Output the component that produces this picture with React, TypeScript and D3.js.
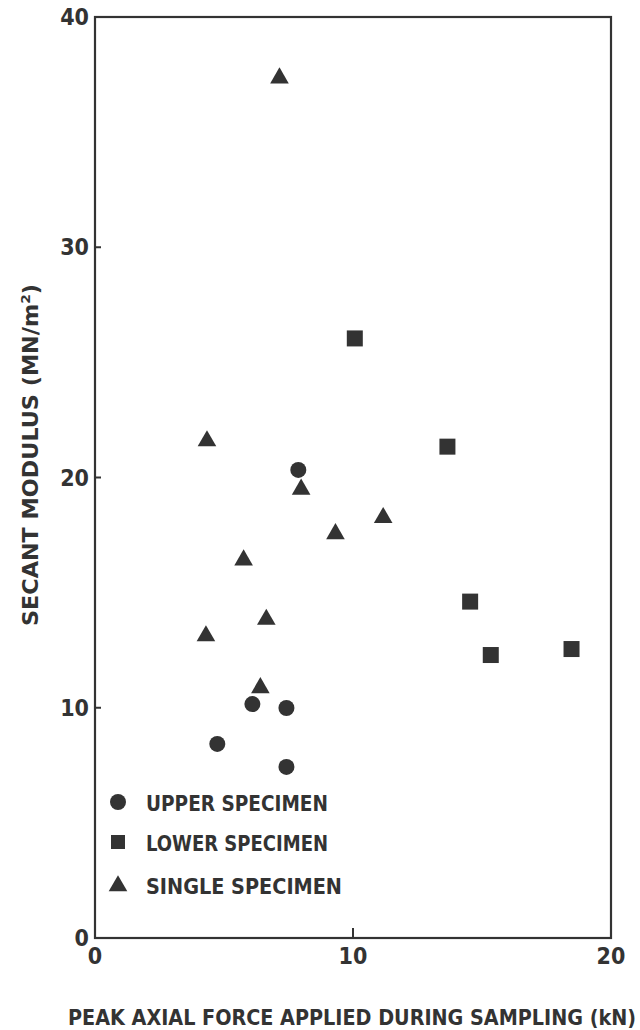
import React from "react";
import * as d3 from "d3";

const upperX = [7.88, 6.1, 7.42, 4.74, 7.42];
const upperY = [20.33, 10.16, 9.99, 8.43, 7.43];
const lowerX = [10.07, 13.66, 14.54, 15.34, 18.47];
const lowerY = [26.04, 21.34, 14.61, 12.29, 12.55];
const singleX = [7.15, 4.34, 7.99, 11.17, 9.32, 5.76, 6.64, 4.3, 6.41];
const singleY = [37.39, 21.63, 19.53, 18.3, 17.6, 16.46, 13.88, 13.16, 10.91];
const xTicks = [0, 10, 20];
const yTicks = [0, 10, 20, 30, 40];
const legendLabels = ["UPPER SPECIMEN", "LOWER SPECIMEN", "SINGLE SPECIMEN"];
const xTitle = "PEAK AXIAL FORCE APPLIED DURING SAMPLING (kN)";

const INK = "#333";
const FONT = "'DejaVu Sans Condensed', 'DejaVu Sans', sans-serif";

export default function App() {
  const W = 640, H = 1030;
  const x = d3.scaleLinear().domain([0, 20]).range([95, 611]);
  const y = d3.scaleLinear().domain([0, 40]).range([938, 17]);
  const tri = d3.symbol().type(d3.symbolTriangle).size(150)();
  const circ = (cx: number, cy: number, k: string) => (
    <circle key={k} cx={cx} cy={cy} r={8} fill={INK} />
  );
  const sq = (cx: number, cy: number, k: string) => (
    <rect key={k} x={cx - 8} y={cy - 8} width={16} height={16} fill={INK} />
  );
  const tr = (cx: number, cy: number, k: string) => (
    <path key={k} d={tri as string} transform={`translate(${cx},${cy + 1})`} fill={INK} />
  );
  return (
    <svg width={W} height={H} style={{ position: "absolute", left: 0, top: 0, background: "#fff" }}>
      <rect x={0} y={0} width={W} height={H} fill="#fff" />
      <rect x={x(0)} y={y(40)} width={x(20) - x(0)} height={y(0) - y(40)} fill="none" stroke={INK} strokeWidth={2.2} />
      {xTicks.slice(1, -1).map((t) => (
        <line key={"xt" + t} x1={x(t)} x2={x(t)} y1={y(0)} y2={y(0) - 10} stroke={INK} strokeWidth={2} />
      ))}
      {yTicks.slice(1, -1).map((t) => (
        <line key={"yt" + t} x1={x(0)} x2={x(0) + 6} y1={y(t)} y2={y(t)} stroke={INK} strokeWidth={2} />
      ))}
      {xTicks.map((t) => (
        <text key={"xl" + t} x={x(t)} y={y(0) + 26} textAnchor="middle" fontFamily={FONT} fontWeight="bold" fontSize={23} fill={INK}>{t}</text>
      ))}
      {yTicks.map((t) => (
        <text key={"yl" + t} x={x(0) - 6} y={y(t) + 8} textAnchor="end" fontFamily={FONT} fontWeight="bold" fontSize={23} fill={INK}>{t}</text>
      ))}
      <text x={68} y={1025} textLength={568} lengthAdjust="spacingAndGlyphs" fontFamily={FONT} fontWeight="bold" fontSize={21} fill={INK}>{xTitle}</text>
      <text transform="translate(38,626) rotate(-90)" textLength={342} lengthAdjust="spacingAndGlyphs" fontFamily={FONT} fontWeight="bold" fontSize={21} fill={INK}>
        SECANT MODULUS (MN/m<tspan dy={-8} fontSize={13}>2</tspan><tspan dy={8}>)</tspan>
      </text>
      {upperX.map((v, i) => circ(x(v), y(upperY[i]), "u" + i))}
      {lowerX.map((v, i) => sq(x(v), y(lowerY[i]), "l" + i))}
      {singleX.map((v, i) => tr(x(v), y(singleY[i]), "s" + i))}
      {legendLabels.map((lab, i) => {
        const cy = [802, 842, 885][i];
        return (
          <g key={"lg" + i}>
            {i === 0 ? circ(118, cy, "lc") : i === 1 ? <rect x={111} y={cy - 7} width={14} height={14} fill={INK} /> : tr(118, cy, "lt")}
            <text x={146} y={cy + 9} textLength={[182, 182, 196][i]} lengthAdjust="spacingAndGlyphs" fontFamily={FONT} fontWeight="bold" fontSize={21} fill={INK}>{lab}</text>
          </g>
        );
      })}
    </svg>
  );
}
